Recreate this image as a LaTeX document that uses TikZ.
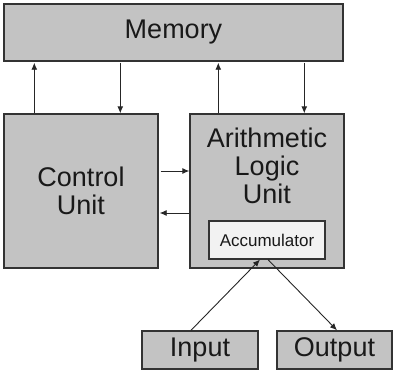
\documentclass[tikz,border=0pt]{standalone}
\usepackage{fontspec}
\setmainfont{Liberation Sans}
\usetikzlibrary{arrows.meta}
\definecolor{boxgray}{HTML}{C3C3C3}
\definecolor{accfill}{HTML}{F2F2F2}
\definecolor{edge}{HTML}{333333}
\begin{document}
\begin{tikzpicture}[x=1pt,y=-1pt,
  bigtext/.style={inner sep=0pt, align=center, font=\fontsize{27}{28}\selectfont, text=black!90},
  unitbox/.style={bigtext, draw=edge, line width=1.4pt, fill=boxgray},
  accbox/.style={draw=edge, line width=1.2pt, fill=accfill, inner sep=0pt,
    font=\fontsize{17}{20}\selectfont, text=black!90},
  conn/.style={line width=0.9pt, draw=black!85, -{Latex[length=7pt,width=6pt]}}]
\useasboundingbox (0,0) rectangle (400,376);
\node[unitbox, minimum width=339pt, minimum height=57pt] (mem) at (173.5,32.5) {Memory};
\node[unitbox, minimum width=154pt, minimum height=154pt] (cu) at (81,191) {Control\\Unit};
\node[unitbox, minimum width=154pt, minimum height=154pt] (alu) at (267,191) {};
\node[bigtext, anchor=north] (alutext) at (267,128) {Arithmetic\\Logic\\Unit};
\node[accbox, minimum width=116pt, minimum height=38pt] (acc) at (267,240) {Accumulator};
\node[unitbox, minimum width=116pt, minimum height=38pt] (in) at (200,350) {Input};
\node[unitbox, minimum width=115pt, minimum height=38pt] (out) at (334.5,350) {Output};
% Memory <-> Control Unit
\draw[conn] ([xshift=31pt]cu.north west) -- ([xshift=31pt,yshift=-1pt]cu.north west |- mem.south);
\draw[conn] ([xshift=117pt,yshift=-1pt]cu.north west |- mem.south) -- ([xshift=117pt]cu.north west);
% Memory <-> ALU
\draw[conn] ([xshift=29pt]alu.north west) -- ([xshift=29pt,yshift=-1pt]alu.north west |- mem.south);
\draw[conn] ([xshift=115pt,yshift=-1pt]alu.north west |- mem.south) -- ([xshift=115pt]alu.north west);
% CU <-> ALU
\draw[conn] ([xshift=2pt]cu.east |- 0,171) -- (alu.west |- 0,171);
\draw[conn] (alu.west |- 0,213) -- ([xshift=1pt]cu.east |- 0,213);
% Input -> Accumulator -> Output
\draw[conn] ([xshift=-9pt]in.north) -- ([xshift=-7pt]acc.south);
\draw[conn] ([xshift=1pt]acc.south) -- ([xshift=2.5pt]out.north);
\end{tikzpicture}
\end{document}
